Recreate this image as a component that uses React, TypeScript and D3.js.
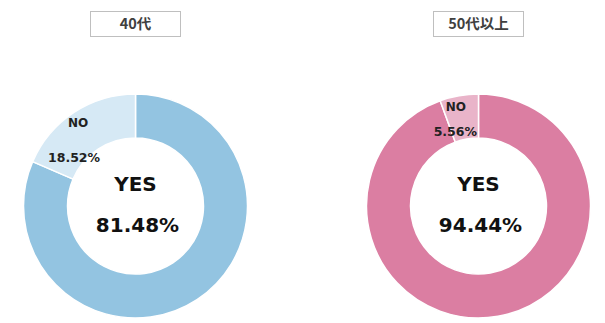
import React from "react";
import * as d3 from "d3";

const groups = ["40代", "50代以上"];
const categories = ["YES", "NO"];
const yesValues = [81.48, 94.44];
const noValues = [18.52, 5.56];
const palettes = [
  ["#93c4e1", "#d6e9f5"],
  ["#db7ea2", "#e9b4c9"],
];

const W = 605;
const H = 323;
const centersX = [135.5, 478.5];
const centerY = 206;
const outerR = 112;
const innerR = 68;
// offsets of small labels from the slice centroid
const labelOffsets = [
  { name: [-8, -4], pct: [-12, 31] },
  { name: [-7, -6], pct: [-7.5, 19] },
];

const fontNum = "'DejaVu Sans', 'Noto Sans', sans-serif";
const fontJp = "'Noto Sans CJK JP', sans-serif";

export default function App() {
  const pie = d3
    .pie<number>()
    .sort(null)
    .value((d) => d)
    .startAngle(0)
    .endAngle(2 * Math.PI);
  const arc = d3.arc<d3.PieArcDatum<number>>().innerRadius(innerR).outerRadius(outerR);

  return (
    <svg
      width={W}
      height={H}
      style={{ position: "absolute", left: 0, top: 0, background: "#fff" }}
    >
      {groups.map((g, gi) => {
        const vals = [yesValues[gi], noValues[gi]];
        const arcs = pie(vals);
        const cx = centersX[gi];
        const noArc = arcs[1];
        const [nx, ny] = arc.centroid(noArc);
        const off = labelOffsets[gi];
        return (
          <g key={g}>
            <rect
              x={cx - 45}
              y={11.5}
              width={90}
              height={25}
              fill="#fff"
              stroke="#bfbfbf"
              strokeWidth={1}
            />
            <text
              x={cx}
              y={29}
              textAnchor="middle"
              fontFamily={fontJp}
              fontSize={14.5}
              fontWeight={700}
              fill="#404040"
            >
              {g}
            </text>
            <g transform={`translate(${cx},${centerY})`}>
              {arcs.map((a, i) => (
                <path
                  key={categories[i]}
                  d={arc(a) || ""}
                  fill={palettes[gi][i]}
                  stroke="#fff"
                  strokeWidth={1.5}
                />
              ))}
              <text
                x={0}
                y={-15}
                textAnchor="middle"
                fontFamily={fontNum}
                fontSize={20}
                fontWeight={700}
                fill="#111"
              >
                {categories[0]}
              </text>
              <text
                x={2}
                y={26}
                textAnchor="middle"
                fontFamily={fontNum}
                fontSize={20}
                fontWeight={700}
                fill="#111"
              >
                {yesValues[gi].toFixed(2)}%
              </text>
              <text
                x={nx + off.name[0]}
                y={ny + off.name[1]}
                textAnchor="middle"
                fontFamily={fontNum}
                fontSize={12}
                fontWeight={700}
                fill="#222"
              >
                {categories[1]}
              </text>
              <text
                x={nx + off.pct[0]}
                y={ny + off.pct[1]}
                textAnchor="middle"
                fontFamily={fontNum}
                fontSize={12.5}
                fontWeight={700}
                fill="#222"
              >
                {noValues[gi].toFixed(2)}%
              </text>
            </g>
          </g>
        );
      })}
    </svg>
  );
}
